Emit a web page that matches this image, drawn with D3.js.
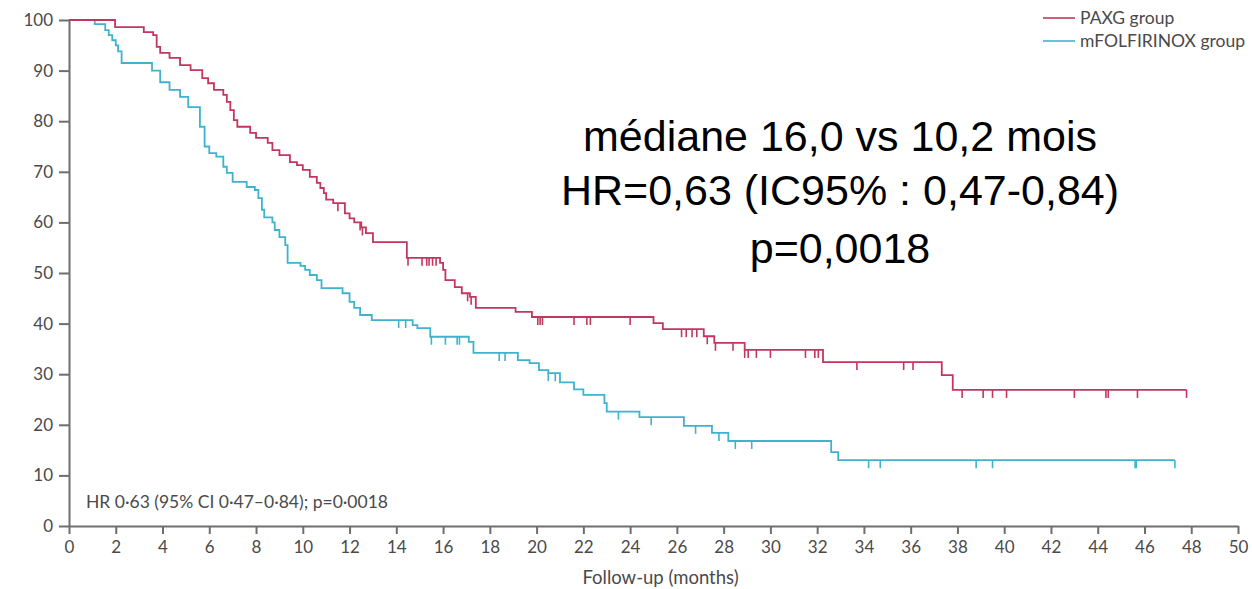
<!DOCTYPE html>
<html>
<head>
<meta charset="utf-8">
<script src="https://cdn.jsdelivr.net/npm/d3@7"></script>
<style>
  body { margin: 0; background: #fff; }
  svg { display: block; }
</style>
</head>
<body>
<div id="chart"></div>
<script>
// PAXG: step times (months) and survival (%) after each drop
const paxgTimes = [0, 1.97, 3.2, 3.6, 3.75, 3.9, 4.3, 4.75, 5.2, 5.7, 5.95, 6.2, 6.6, 6.75, 6.9, 7.05, 7.2, 7.75, 8.0, 8.5, 8.7, 9.0, 9.45, 9.75, 10.0, 10.3, 10.6, 10.75, 10.9, 11.0, 11.3, 11.8, 12.0, 12.2, 12.5, 12.7, 13.0, 14.45, 15.87, 16.0, 16.1, 16.5, 16.8, 17.15, 17.4, 19.1, 19.8, 25.0, 25.4, 27.15, 27.6, 28.9, 32.25, 37.33, 37.8];
const paxgSurv  = [100, 98.6, 97.6, 97.0, 94.7, 93.5, 92.5, 91.1, 90.1, 88.5, 87.5, 86.2, 85.2, 83.8, 82.2, 80.2, 78.9, 77.7, 76.7, 75.7, 74.3, 73.3, 71.9, 71.3, 70.4, 69.0, 67.8, 66.8, 65.8, 64.5, 63.8, 61.8, 60.8, 60.0, 59.0, 57.9, 56.1, 53.0, 52.0, 50.6, 48.6, 47.2, 46.0, 45.3, 43.1, 42.3, 41.3, 40.1, 38.9, 37.5, 36.2, 34.8, 32.4, 29.8, 26.9];
const paxgEnd = 47.8;
const paxgCensor = [11.5, 12.45, 12.55, 14.5, 15.1, 15.3, 15.4, 15.55, 15.7, 17.05, 17.2, 20.05, 20.15, 20.25, 21.6, 22.15, 22.3, 24.0, 26.2, 26.4, 26.65, 26.85, 27.3, 27.65, 28.4, 28.9, 29.05, 29.4, 30.0, 31.5, 31.9, 32.05, 33.7, 35.7, 36.1, 38.2, 39.1, 39.5, 40.1, 43.0, 44.35, 44.45, 45.7, 47.8];

// mFOLFIRINOX
const mfolTimes = [0, 1.1, 1.55, 1.7, 1.85, 2.0, 2.1, 2.25, 3.55, 3.9, 4.3, 4.75, 5.1, 5.6, 5.8, 6.0, 6.3, 6.6, 6.75, 7.0, 7.6, 7.95, 8.1, 8.25, 8.35, 8.7, 8.8, 9.0, 9.25, 9.35, 9.9, 10.1, 10.3, 10.6, 10.8, 11.7, 12.0, 12.2, 12.45, 12.95, 14.7, 14.9, 15.45, 17.1, 17.3, 19.2, 19.7, 20.1, 20.5, 21.0, 21.6, 22.0, 22.9, 23.0, 24.4, 26.3, 27.5, 28.2, 32.6, 32.9];
const mfolSurv  = [100, 99.2, 98.0, 97.0, 96.0, 95.0, 93.8, 91.5, 90.0, 87.7, 86.2, 84.8, 82.8, 78.9, 75.0, 73.7, 73.0, 71.0, 69.8, 68.0, 67.0, 66.4, 64.8, 62.5, 61.0, 60.0, 58.5, 57.1, 55.5, 52.0, 51.4, 50.6, 49.6, 48.6, 47.0, 46.0, 44.3, 43.1, 41.7, 40.7, 39.7, 39.1, 37.4, 36.4, 34.2, 32.8, 32.2, 30.8, 30.2, 28.4, 27.0, 25.9, 24.3, 22.6, 21.5, 19.8, 18.4, 16.8, 14.6, 13.0];
const mfolEnd = 47.3;
const mfolCensor = [14.1, 14.4, 15.5, 16.1, 16.6, 16.7, 18.4, 18.65, 20.5, 20.8, 23.5, 24.9, 26.8, 27.8, 28.5, 29.2, 34.2, 34.7, 38.8, 39.5, 45.6, 45.65, 47.3];

const xTicks = d3.range(0, 51, 2);
const yTicks = d3.range(0, 101, 10);

const groupNames = ["PAXG group", "mFOLFIRINOX group"];
const statsLines = ["médiane 16,0 vs 10,2 mois", "HR=0,63 (IC95% : 0,47-0,84)", "p=0,0018"];
const hrNote = "HR 0·63 (95% CI 0·47–0·84); p=0·0018";

const red = "#c4355f";
const cyan = "#3fb3cd";
const axisCol = "#6e6e6e";
const labelFont = "Lato, 'Open Sans', sans-serif";

const width = 1252, height = 589;
const svg = d3.select("#chart").append("svg")
    .attr("width", width)
    .attr("height", height);

const x = d3.scaleLinear().domain([0, 50]).range([69, 1238]);
const y = d3.scaleLinear().domain([0, 100]).range([526, 20]);

// axes
const yAxis = svg.append("g")
    .attr("transform", `translate(${x(0)},0)`)
    .call(d3.axisLeft(y).tickValues(yTicks).tickSize(10).tickSizeOuter(0).tickPadding(6));
const xAxis = svg.append("g")
    .attr("transform", `translate(0,${y(0)})`)
    .call(d3.axisBottom(x).tickValues(xTicks).tickSize(8).tickSizeOuter(0).tickPadding(7));

[yAxis, xAxis].forEach(ax => {
    ax.select(".domain").attr("stroke", axisCol).attr("stroke-width", 2);
    ax.selectAll(".tick line").attr("stroke", axisCol).attr("stroke-width", 2);
    ax.selectAll(".tick text")
        .attr("fill", "#4a4a4a")
        .style("font-family", labelFont)
        .style("font-size", "17px");
});

svg.append("text")
    .attr("x", x(25.3))
    .attr("y", 584)
    .attr("text-anchor", "middle")
    .attr("fill", "#4a4a4a")
    .style("font-family", labelFont)
    .style("font-size", "18.5px")
    .text("Follow-up (months)");

// curves
function stepData(times, surv, end) {
    const pts = times.map((t, i) => [t, surv[i]]);
    pts.push([end, surv[surv.length - 1]]);
    return pts;
}
function survAt(times, surv, t) {
    const i = d3.bisectRight(times, t) - 1;
    return surv[Math.max(0, i)];
}

const line = d3.line()
    .x(d => x(d[0]))
    .y(d => y(d[1]))
    .curve(d3.curveStepAfter);

const series = [
    { times: mfolTimes, surv: mfolSurv, end: mfolEnd, censor: mfolCensor, color: cyan },
    { times: paxgTimes, surv: paxgSurv, end: paxgEnd, censor: paxgCensor, color: red }
];

series.forEach(s => {
    svg.append("path")
        .datum(stepData(s.times, s.surv, s.end))
        .attr("d", line)
        .attr("fill", "none")
        .attr("stroke", s.color)
        .attr("stroke-width", 1.8);

    svg.selectAll(null)
        .data(s.censor)
        .join("line")
        .attr("x1", d => x(d))
        .attr("x2", d => x(d))
        .attr("y1", d => y(survAt(s.times, s.surv, d)))
        .attr("y2", d => y(survAt(s.times, s.surv, d)) + 8)
        .attr("stroke", s.color)
        .attr("stroke-width", 1.6);
});

// legend
const legend = svg.append("g").attr("transform", "translate(1043,18)");
groupNames.forEach((name, i) => {
    const g = legend.append("g").attr("transform", `translate(0,${i * 23})`);
    g.append("line")
        .attr("x1", 0).attr("x2", 32)
        .attr("stroke", i === 0 ? red : cyan)
        .attr("stroke-width", 1.6);
    g.append("text")
        .attr("x", 37)
        .attr("dy", "0.35em")
        .attr("fill", "#4a4a4a")
        .style("font-family", labelFont)
        .style("font-size", "17.5px")
        .text(name);
});

// big annotation
const baselines = [151, 205, 263];
statsLines.forEach((t, i) => {
    svg.append("text")
        .attr("x", 840)
        .attr("y", baselines[i])
        .attr("text-anchor", "middle")
        .attr("fill", "#000")
        .style("font-family", "'Liberation Sans', Arial, sans-serif")
        .style("font-size", "43px")
        .text(t);
});

svg.append("text")
    .attr("x", 86)
    .attr("y", 508)
    .attr("fill", "#4a4a4a")
    .style("font-family", labelFont)
    .style("font-size", "17.5px")
    .text(hrNote);
</script>
</body>
</html>
